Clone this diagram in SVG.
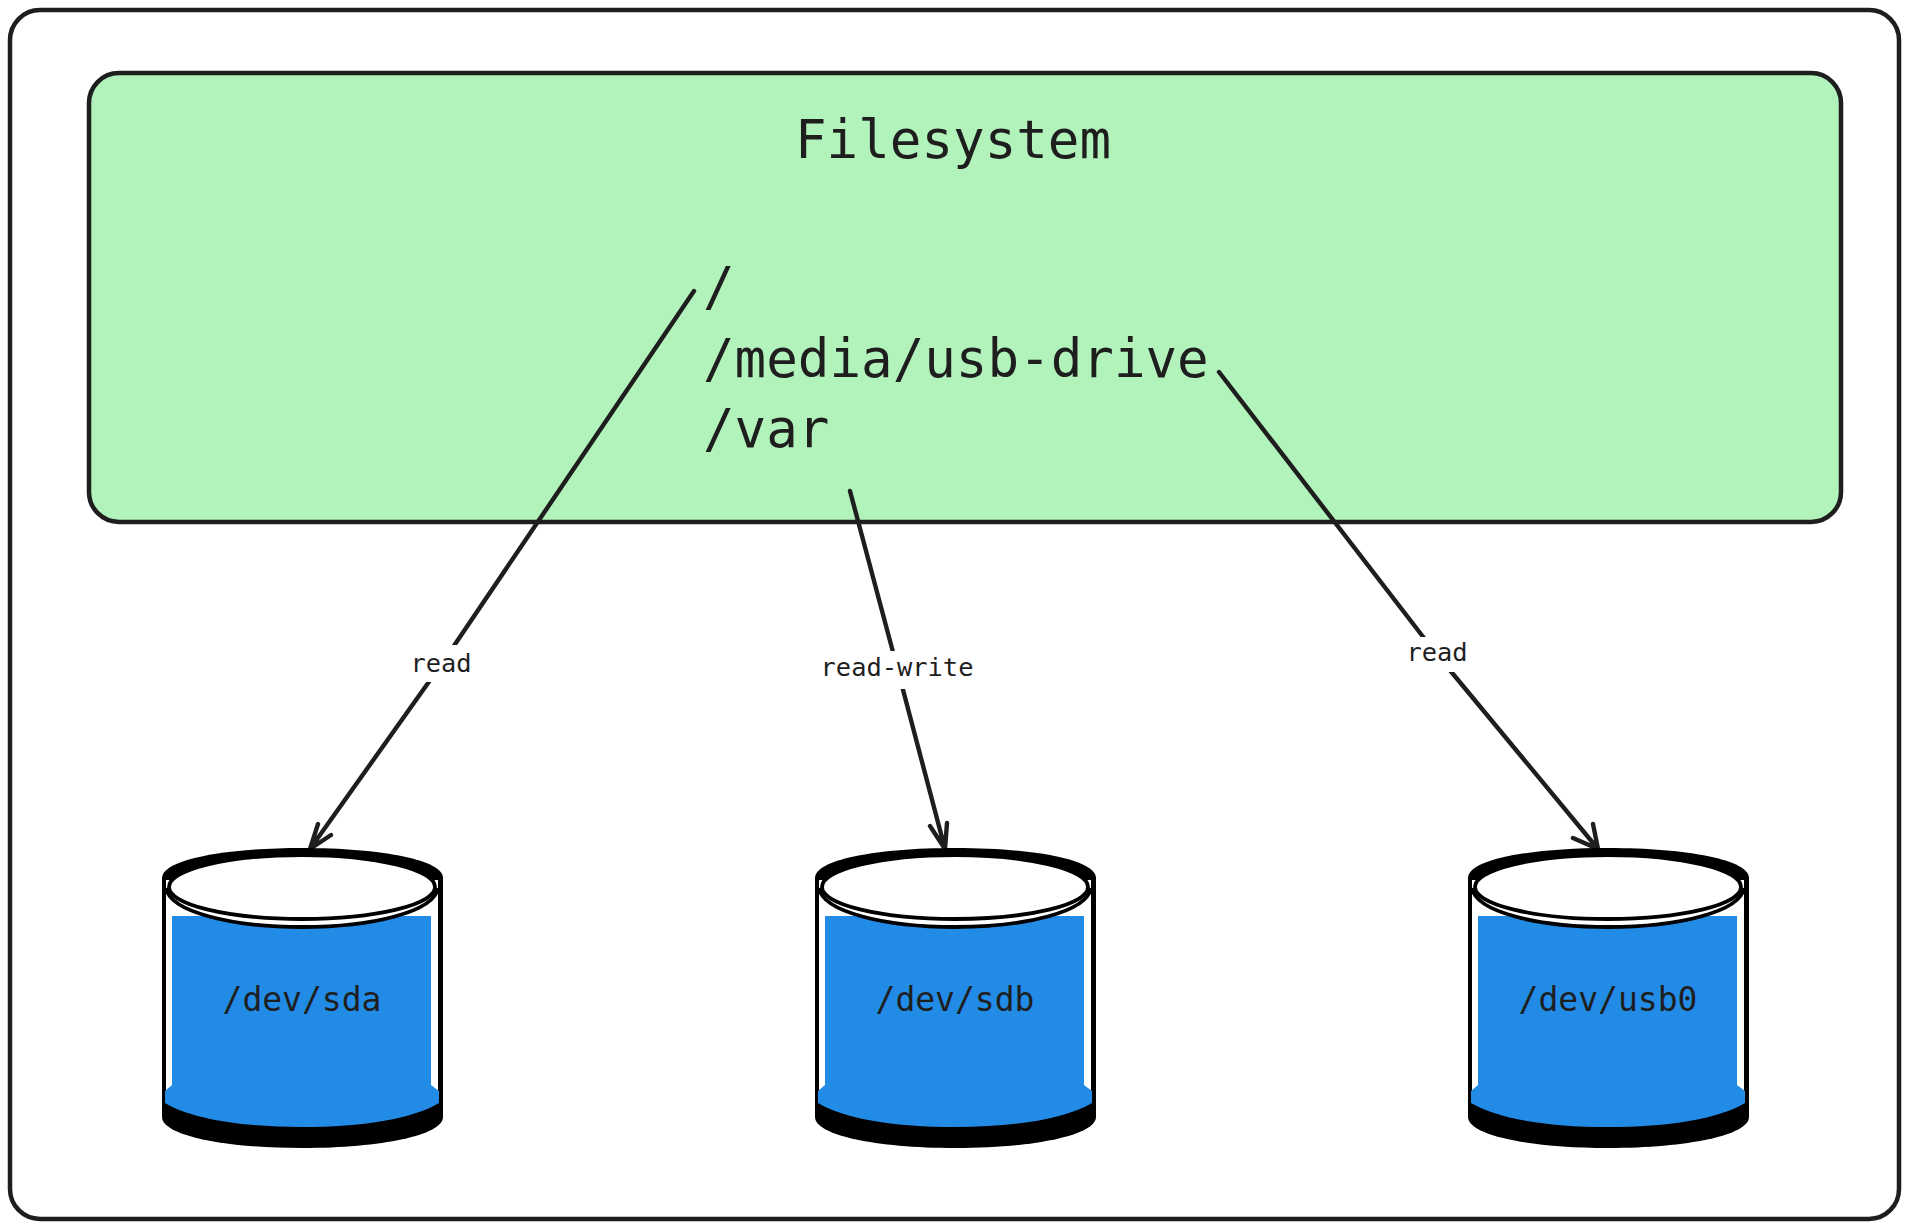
<svg xmlns="http://www.w3.org/2000/svg" width="1909" height="1229" viewBox="0 0 1909 1229">
<style>
.t{font-family:"DejaVu Sans Mono","Liberation Mono",monospace;fill:#1e1e1e}
.big{font-size:52.5px}
.dev{font-size:33px;text-anchor:middle}
.lab{font-size:25.4px;text-anchor:middle}
.box{stroke:#1e1e1e;stroke-width:4.5}
.conn{fill:none;stroke:#1e1e1e;stroke-width:4.4;stroke-linecap:round;stroke-linejoin:round}
</style>
<defs>
<g id="cyl">
<path d="M-140 878C-140 860 -80 848 0 848S141 860 141 878V1117C141 1135 80 1148 0 1148S-140 1135 -140 1117Z" fill="#000"/>
<path d="M-136 880H136V1098H-136Z" fill="#fff"/>
<path d="M-130 916H129V1085L137 1091V1103C110 1119 60 1127 0 1127S-110 1119 -137 1103V1091L-130 1085Z" fill="#228be6"/>
<path d="M-136 888C-132 912 -70 927 0 927S132 912 136 888" fill="#fff" stroke="#000" stroke-width="3.8"/>
<ellipse cx="0" cy="887" rx="133" ry="32" fill="#fff" stroke="#000" stroke-width="3.8"/>
</g>
</defs>
<rect width="1909" height="1229" fill="#fff"/>
<rect id="frame" class="box" x="10" y="10" width="1889" height="1209" rx="30" fill="#fff"/>
<g id="filesystem">
<rect class="box" x="89" y="73" width="1752" height="449" rx="30" fill="#b2f2bb"/>
<text class="t big" x="795" y="158">Filesystem</text>
<text class="t big" x="703" y="305">/</text>
<text class="t big" x="703" y="377">/media/usb-drive</text>
<text class="t big" x="703" y="447">/var</text>
</g>
<g id="connectors">
<path class="conn" d="M694 291L443 662L310 849M310 849L318 824M310 849L331 835"/>
<path class="conn" d="M850 491L897 667L945 849M945 849L930 826M945 849L947 823"/>
<path class="conn" d="M1219 372L1434 651L1598 849M1598 849L1573 838M1598 849L1593 824"/>
<rect x="408" y="645" width="66" height="37" fill="#fff"/>
<text class="t lab" x="441" y="672">read</text>
<rect x="818" y="651" width="158" height="38" fill="#fff"/>
<text class="t lab" x="897" y="676">read-write</text>
<rect x="1404" y="637" width="66" height="35" fill="#fff"/>
<text class="t lab" x="1437" y="661">read</text>
</g>
<g id="sda"><use href="#cyl" x="302"/><text class="t dev" x="302" y="1011">/dev/sda</text></g>
<g id="sdb"><use href="#cyl" x="955"/><text class="t dev" x="955" y="1011">/dev/sdb</text></g>
<g id="usb0"><use href="#cyl" x="1608"/><text class="t dev" x="1608" y="1011">/dev/usb0</text></g>
</svg>
